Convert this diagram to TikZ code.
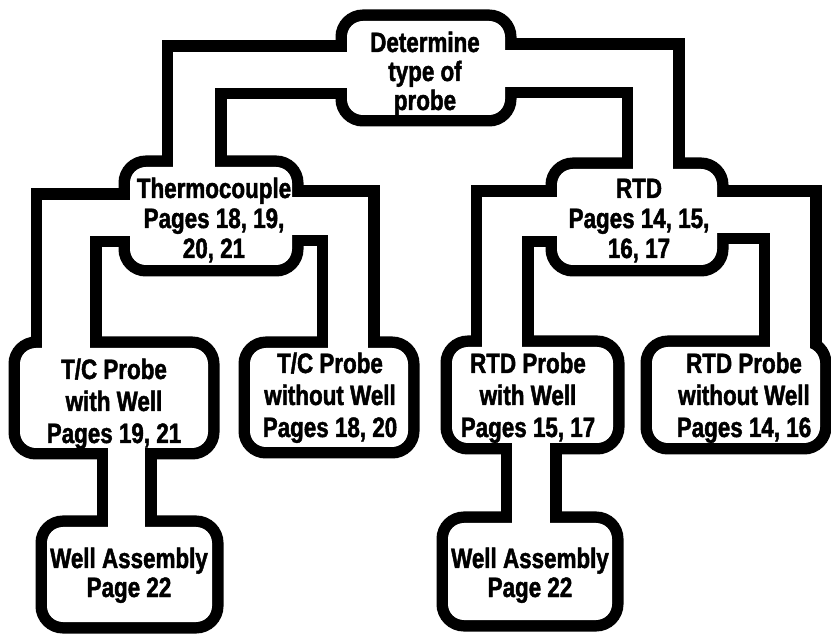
\documentclass[tikz,border=0pt]{standalone}
\usepackage{fontspec}
\newfontfamily\lblfam[FakeStretch=0.8,FakeBold=1.6]{Liberation Sans}
\begin{document}
\begin{tikzpicture}[x=1pt,y=-1pt,
  outl/.style={draw=black, line width=23pt, line join=miter},
  innerfill/.style={fill=white, draw=none},
  boxr/.style={rounded corners=16pt},
  lbl/.style={anchor=base, inner sep=0pt, text=black},
  sp29/.style={font={\lblfam\bfseries\fontsize{28}{29}\selectfont}},
  sp30/.style={font={\lblfam\bfseries\fontsize{28}{30}\selectfont}},
  sp32/.style={font={\lblfam\bfseries\fontsize{28}{32}\selectfont}}]
\useasboundingbox (0,0) rectangle (831,636);
\fill[white] (0,0) rectangle (831,636);
% boxes (inner white areas) and pipes
\def\boxlist{347/21/505/115, 130/167/292/265, 557/169/717/265,
  20/348/208/448, 250/348/408/447, 452/347/613/443, 652/347/820/443,
  47/527/212/622, 448/523/612/620}
\def\pipelist{173/52/355/88, 173/52/215/175,
  497/50/673/87, 633/50/673/177,
  42/200/138/236, 42/200/90/356,
  284/197/368/235, 328/197/368/356,
  482/197/565/236, 482/197/522/355,
  709/197/810/233, 770/197/810/355,
  108/440/145/535, 512/435/550/531}
% outline layer
\foreach \a/\b/\c/\d in \boxlist {\path[outl,boxr] (\a,\b) rectangle (\c,\d);}
\foreach \a/\b/\c/\d in \pipelist {\path[outl] (\a,\b) rectangle (\c,\d);}
% white interior layer
\foreach \a/\b/\c/\d in \boxlist {\path[innerfill,boxr] (\a,\b) rectangle (\c,\d);}
\foreach \a/\b/\c/\d in \pipelist {\path[innerfill] (\a,\b) rectangle (\c,\d);}
% labels
\node[lbl,sp29] (tD) at (425,110) {\begin{tabular}[b]{@{}c@{}}Determine\\type of\\probe\end{tabular}};
\node[lbl,sp30] (tT) at (214,258) {\begin{tabular}[b]{@{}c@{}}Thermocouple\\Pages 18, 19,\\20, 21\end{tabular}};
\node[lbl,sp30] (tR) at (639,258) {\begin{tabular}[b]{@{}c@{}}RTD\\Pages 14, 15,\\16, 17\end{tabular}};
\node[lbl,sp32] (tA) at (114,443) {\begin{tabular}[b]{@{}c@{}}T/C Probe\\with Well\\Pages 19, 21\end{tabular}};
\node[lbl,sp32] (tB) at (330,437) {\begin{tabular}[b]{@{}c@{}}T/C Probe\\without Well\\Pages 18, 20\end{tabular}};
\node[lbl,sp32] (tC) at (528,437) {\begin{tabular}[b]{@{}c@{}}RTD Probe\\with Well\\Pages 15, 17\end{tabular}};
\node[lbl,sp32] (tE) at (744,437) {\begin{tabular}[b]{@{}c@{}}RTD Probe\\without Well\\Pages 14, 16\end{tabular}};
\node[lbl,sp29] (tW1) at (129,597) {\begin{tabular}[b]{@{}c@{}}Well Assembly\\Page 22\end{tabular}};
\node[lbl,sp29] (tW2) at (530,597) {\begin{tabular}[b]{@{}c@{}}Well Assembly\\Page 22\end{tabular}};
\end{tikzpicture}
\end{document}
